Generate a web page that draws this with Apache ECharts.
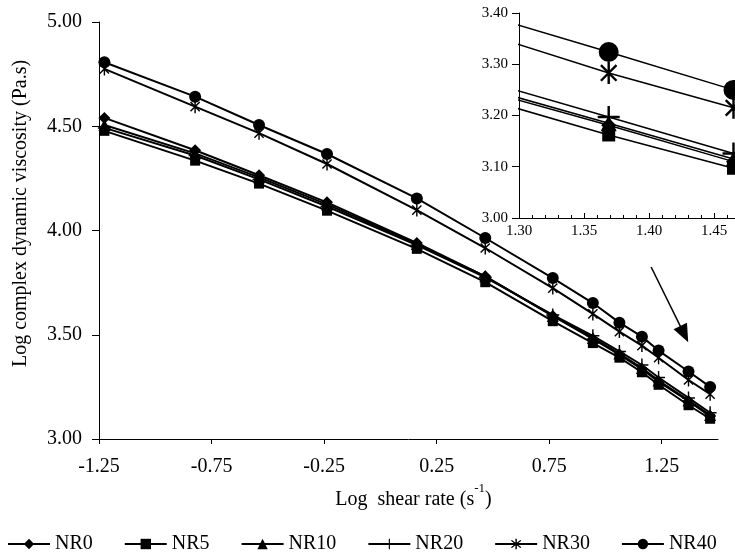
<!DOCTYPE html>
<html>
<head>
<meta charset="utf-8">
<script src="https://cdn.jsdelivr.net/npm/echarts@6/dist/echarts.min.js"></script>
<style>
  html, body { margin: 0; padding: 0; background: #fff; }
  #chart { width: 735px; height: 555px; }
</style>
</head>
<body>
<div id="chart"></div>
<script>
// ---- data ----
var shearRate = [-1.226, -0.823, -0.539, -0.237, 0.162, 0.466, 0.766, 0.944, 1.062, 1.162, 1.236, 1.369, 1.465];
var NR0  = [4.540, 4.385, 4.265, 4.135, 3.940, 3.780, 3.590, 3.480, 3.405, 3.335, 3.275, 3.181, 3.110];
var NR5  = [4.478, 4.335, 4.225, 4.095, 3.912, 3.752, 3.565, 3.460, 3.390, 3.320, 3.260, 3.162, 3.097];
var NR10 = [4.506, 4.370, 4.255, 4.125, 3.935, 3.780, 3.590, 3.485, 3.410, 3.340, 3.280, 3.185, 3.115];
var NR20 = [4.492, 4.360, 4.245, 4.115, 3.930, 3.775, 3.595, 3.495, 3.420, 3.355, 3.295, 3.197, 3.126];
var NR30 = [4.775, 4.594, 4.467, 4.319, 4.098, 3.916, 3.724, 3.600, 3.515, 3.448, 3.390, 3.283, 3.215];
var NR40 = [4.807, 4.642, 4.506, 4.367, 4.154, 3.964, 3.772, 3.652, 3.558, 3.491, 3.424, 3.324, 3.250];
var seriesNames = ['NR0', 'NR5', 'NR10', 'NR20', 'NR30', 'NR40'];
var xTickLabels = [-1.25, -0.75, -0.25, 0.25, 0.75, 1.25];
var arrowFrom = [1.203, 3.825];
var arrowTo = [1.350, 3.503];

// ---- styles ----
var FONT = "'Liberation Serif', 'Times New Roman', serif";
var plusPath = 'path://M-1.1,-10 L1.1,-10 L1.1,10 L-1.1,10 Z M-10,-1.1 L10,-1.1 L10,1.1 L-10,1.1 Z';
var starPath = 'path://M-1.1,-10 L1.1,-10 L1.1,10 L-1.1,10 Z ' +
  'M-6.3,-7.85 L7.85,6.3 L6.3,7.85 L-7.85,-6.3 Z ' +
  'M-7.85,6.3 L6.3,-7.85 L7.85,-6.3 L-6.3,7.85 Z';
var values = [NR0, NR5, NR10, NR20, NR30, NR40];
var symbols = ['diamond', 'rect', 'triangle', plusPath, starPath, 'circle'];
var mainSizes = [12, 10, 12, 13, 13, 12];
var insetSizes = [15, 13, 16, 22, 22, 20];

function pairs(arr) {
  return shearRate.map(function (x, i) { return [x, arr[i]]; });
}

var series = [];
seriesNames.forEach(function (name, i) {
  var s = {
    name: name, type: 'line', xAxisIndex: 0, yAxisIndex: 0,
    data: pairs(values[i]),
    symbol: symbols[i], symbolSize: mainSizes[i], symbolKeepAspect: true,
    showAllSymbol: true,
    lineStyle: { color: '#000', width: 2 },
    itemStyle: { color: '#000' },
    emphasis: { disabled: true },
    animation: false, z: 2 + i
  };
  if (name === 'NR40') {
    s.markLine = {
      silent: true, animation: false,
      symbol: ['none', 'triangle'], symbolSize: [15, 18],
      lineStyle: { color: '#000', width: 1.5, type: 'solid' },
      label: { show: false },
      data: [[{ coord: arrowFrom }, { coord: arrowTo }]]
    };
  }
  series.push(s);
});
seriesNames.forEach(function (name, i) {
  series.push({
    name: name, type: 'line', xAxisIndex: 1, yAxisIndex: 1,
    data: pairs(values[i]),
    symbol: symbols[i], symbolSize: insetSizes[i], symbolKeepAspect: true,
    showAllSymbol: true, clip: true,
    lineStyle: { color: '#000', width: 1.5 },
    itemStyle: { color: '#000' },
    emphasis: { disabled: true },
    animation: false, z: 20 + i
  });
});

var chart = echarts.init(document.getElementById('chart'), null, { renderer: 'canvas' });
chart.setOption({
  backgroundColor: '#fff',
  animation: false,
  textStyle: { fontFamily: FONT, color: '#000' },
  grid: [
    { left: 99, top: 22, width: 619, height: 417, containLabel: false, outerBoundsMode: 'none' },
    { left: 519, top: 13, width: 260, height: 205, containLabel: false, outerBoundsMode: 'none' }
  ],
  legend: {
    data: seriesNames,
    left: 2, top: 529,
    itemWidth: 42, itemHeight: 13, itemGap: 31,
    textStyle: { fontFamily: FONT, fontSize: 20, color: '#000' },
    selectedMode: false
  },
  xAxis: [
    {
      type: 'value', gridIndex: 0, min: -1.25, max: 1.5,
      name: '{a|Log  shear rate (s}{s|-1}{a|)}',
      nameLocation: 'middle', nameGap: 38,
      nameTextStyle: {
        padding: [0, 0, 0, 10],
        rich: {
          a: { fontFamily: FONT, fontSize: 20, color: '#000', verticalAlign: 'bottom', lineHeight: 28 },
          s: { fontFamily: FONT, fontSize: 13, color: '#000', verticalAlign: 'top', lineHeight: 28 }
        }
      },
      axisLine: { show: true, onZero: false, lineStyle: { color: '#000', width: 1 } },
      axisTick: { show: true, inside: false, length: 5, customValues: xTickLabels, lineStyle: { color: '#000' } },
      axisLabel: {
        customValues: xTickLabels, margin: 18, fontSize: 20, fontFamily: FONT, color: '#000',
        formatter: function (v) { return v.toFixed(2); }
      },
      splitLine: { show: false }
    },
    {
      type: 'value', gridIndex: 1, min: 1.30, max: 1.50, interval: 0.05,
      axisLine: { show: true, onZero: false, lineStyle: { color: '#000', width: 1 } },
      axisTick: { show: true, inside: true, length: 5, lineStyle: { color: '#000' } },
      minorTick: { show: true, splitNumber: 5, length: 3, lineStyle: { color: '#000' } },
      axisLabel: {
        margin: 6, fontSize: 15, fontFamily: FONT, color: '#000',
        formatter: function (v) { return v.toFixed(2); }
      },
      splitLine: { show: false }
    }
  ],
  yAxis: [
    {
      type: 'value', gridIndex: 0, min: 3, max: 5, interval: 0.5,
      name: 'Log complex dynamic viscosity (Pa.s)',
      nameLocation: 'middle', nameGap: 68, nameRotate: 90,
      nameTextStyle: { fontFamily: FONT, fontSize: 20, color: '#000', padding: [0, 0, 0, 34] },
      axisLine: { show: true, onZero: false, lineStyle: { color: '#000', width: 1 } },
      axisTick: { show: true, inside: false, length: 7, lineStyle: { color: '#000' } },
      axisLabel: {
        margin: 17, fontSize: 20, fontFamily: FONT, color: '#000',
        formatter: function (v) { return v.toFixed(2); }
      },
      splitLine: { show: false }
    },
    {
      type: 'value', gridIndex: 1, min: 3.0, max: 3.4, interval: 0.1,
      axisLine: { show: true, onZero: false, lineStyle: { color: '#000', width: 1 } },
      axisTick: { show: true, inside: false, length: 7, lineStyle: { color: '#000' } },
      axisLabel: {
        margin: 11, fontSize: 15, fontFamily: FONT, color: '#000',
        formatter: function (v) { return v.toFixed(2); }
      },
      splitLine: { show: false }
    }
  ],
  series: series
});
</script>
</body>
</html>
